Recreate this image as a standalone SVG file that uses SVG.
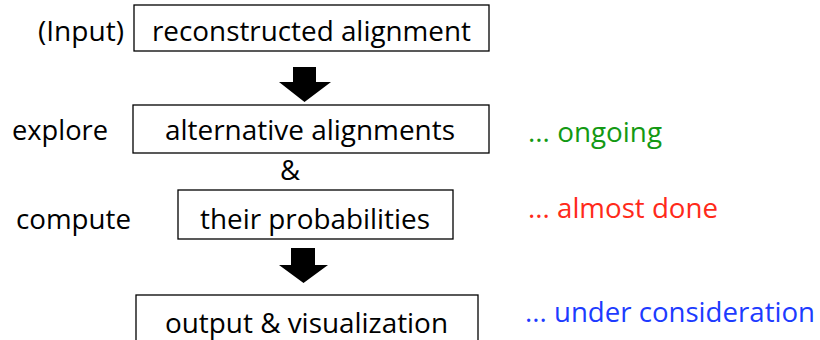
<svg xmlns="http://www.w3.org/2000/svg" width="820" height="340" viewBox="0 0 820 340">
<style>
text{font-family:"Open Sans","Noto Sans","Liberation Sans",sans-serif;font-size:27.5px;fill:#000}
.box{fill:#fff;stroke:#000;stroke-width:1.3}
.arrow{fill:#000;stroke:none}
.mid{text-anchor:middle}
.g{fill:#139913}
.r{fill:#FF2A1A}
.b{fill:#1D3BFF}
</style>
<rect width="820" height="340" fill="#fff"/>
<g id="connectors">
<polygon class="arrow" points="293,67 316,67 316,82 331,82 304.5,102 279,82 293,82"/>
<polygon class="arrow" points="291,248 315,248 315,265 328,265 303.5,283 279,265 291,265"/>
</g>
<g id="node-input">
<rect class="box" x="134" y="5" width="355" height="46"/>
<text x="152" y="41" textLength="319" lengthAdjust="spacingAndGlyphs">reconstructed alignment</text>
</g>
<g id="node-alternative">
<rect class="box" x="133" y="105" width="356" height="48"/>
<text x="165" y="140" textLength="290" lengthAdjust="spacingAndGlyphs">alternative alignments</text>
</g>
<g id="node-probabilities">
<rect class="box" x="178" y="190" width="275" height="49"/>
<text x="200" y="229" textLength="230" lengthAdjust="spacingAndGlyphs">their probabilities</text>
</g>
<g id="node-output">
<rect class="box" x="136" y="295" width="342" height="60"/>
<text x="165" y="333" textLength="283" lengthAdjust="spacingAndGlyphs">output &amp; visualization</text>
</g>
<g id="labels">
<text x="38" y="41" textLength="86" lengthAdjust="spacingAndGlyphs">(Input)</text>
<text x="12" y="140" textLength="96" lengthAdjust="spacingAndGlyphs">explore</text>
<text x="290" y="180" class="mid">&amp;</text>
<text x="16" y="229" textLength="115" lengthAdjust="spacingAndGlyphs">compute</text>
<text class="g" x="528" y="142" textLength="134" lengthAdjust="spacingAndGlyphs">... ongoing</text>
<text class="r" x="528" y="218" textLength="190" lengthAdjust="spacingAndGlyphs">... almost done</text>
<text class="b" x="525" y="322" textLength="290" lengthAdjust="spacingAndGlyphs">... under consideration</text>
</g>
</svg>
